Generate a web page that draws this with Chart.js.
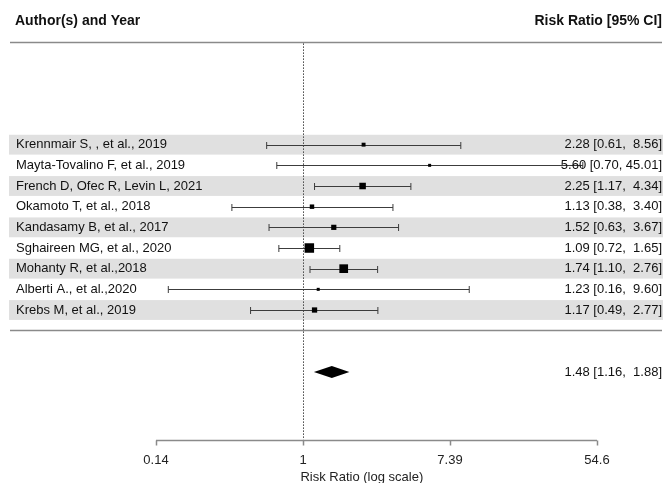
<!DOCTYPE html>
<html>
<head>
<meta charset="utf-8">
<script src="https://cdn.jsdelivr.net/npm/chart.js@4"></script>
<style>
  html, body { margin: 0; padding: 0; background: #fff; }
  #wrap { width: 666px; height: 483px; position: relative; }
</style>
</head>
<body>
<div id="wrap"><canvas id="forest"></canvas></div>
<script>
// 연구 목록
const studies = [
    "Krennmair S, , et al., 2019",
    "Mayta-Tovalino F, et al., 2019",
    "French D, Ofec R, Levin L, 2021",
    "Okamoto T, et al., 2018",
    "Kandasamy B, et al., 2017",
    "Sghaireen MG, et al., 2020",
    "Mohanty R, et al.,2018",
    "Alberti A., et al.,2020",
    "Krebs M, et al., 2019"
];
const riskRatio = [2.28, 5.60, 2.25, 1.13, 1.52, 1.09, 1.74, 1.23, 1.17];
const ciLower = [0.61, 0.70, 1.17, 0.38, 0.63, 0.72, 1.10, 0.16, 0.49];
const ciUpper = [8.56, 45.01, 4.34, 3.40, 3.67, 1.65, 2.76, 9.60, 2.77];
const ciText = [
    "2.28 [0.61,  8.56]",
    "5.60 [0.70, 45.01]",
    "2.25 [1.17,  4.34]",
    "1.13 [0.38,  3.40]",
    "1.52 [0.63,  3.67]",
    "1.09 [0.72,  1.65]",
    "1.74 [1.10,  2.76]",
    "1.23 [0.16,  9.60]",
    "1.17 [0.49,  2.77]"
];
// 통합 결과 (RR, 하한, 상한)
const pooled = [1.48, 1.16, 1.88];
const pooledText = "1.48 [1.16,  1.88]";
// 축 눈금 (로그 값) 및 라벨
const tickLogs = [-2, 0, 2, 4];
const tickLabels = ["0.14", "1", "7.39", "54.6"];

const FONT = '"Liberation Sans", Arial, sans-serif';
const POOLED_ROW = 11;
const AXIS_ROW = 14.27;

// 정밀도(1/SE)에 비례하는 마커 크기
const prec = riskRatio.map((_, i) => 3.92 / (Math.log(ciUpper[i]) - Math.log(ciLower[i])));
const pMin = Math.min(...prec), pMax = Math.max(...prec);
const markerRadius = prec.map(p => (3 + (p - pMin) / (pMax - pMin) * 6.5) / Math.SQRT2);

const forestPlugin = {
    id: 'forest',
    beforeDatasetsDraw(chart) {
        const { ctx, scales: { x, y } } = chart;
        const W = chart.width;
        ctx.save();
        // 회색 줄무늬
        ctx.fillStyle = '#e0e0e0';
        studies.forEach((s, i) => {
            if (i % 2 === 0) {
                const top = y.getPixelForValue(i - 0.48);
                const bot = y.getPixelForValue(i + 0.48);
                ctx.fillRect(9, top, W - 12, bot - top);
            }
        });
        // 헤더
        ctx.fillStyle = '#111';
        ctx.font = 'bold 14px ' + FONT;
        ctx.textBaseline = 'middle';
        ctx.textAlign = 'left';
        ctx.fillText('Author(s) and Year', 15, y.getPixelForValue(-6));
        ctx.textAlign = 'right';
        ctx.fillText('Risk Ratio [95% CI]', W - 4, y.getPixelForValue(-6));
        // 가로선
        ctx.strokeStyle = '#8a8a8a';
        ctx.lineWidth = 1.5;
        [-4.95, 8.97].forEach(r => {
            const py = Math.round(y.getPixelForValue(r)) + 0.5;
            ctx.beginPath();
            ctx.moveTo(10, py);
            ctx.lineTo(W - 4, py);
            ctx.stroke();
        });
        // 기준선 (RR = 1)
        const x1 = Math.round(x.getPixelForValue(1)) + 0.5;
        ctx.strokeStyle = '#444';
        ctx.lineWidth = 1;
        ctx.setLineDash([1.5, 1.5]);
        ctx.beginPath();
        ctx.moveTo(x1, y.getPixelForValue(-4.9));
        ctx.lineTo(x1, y.getPixelForValue(AXIS_ROW));
        ctx.stroke();
        ctx.setLineDash([]);
        // 신뢰구간
        ctx.strokeStyle = '#3c3c3c';
        ctx.lineWidth = 1;
        studies.forEach((s, i) => {
            const py = Math.round(y.getPixelForValue(i)) + 0.5;
            const xl = x.getPixelForValue(ciLower[i]);
            const xr = x.getPixelForValue(ciUpper[i]);
            ctx.beginPath();
            ctx.moveTo(xl, py); ctx.lineTo(xr, py);
            ctx.moveTo(xl, py - 3.5); ctx.lineTo(xl, py + 3.5);
            ctx.moveTo(xr, py - 3.5); ctx.lineTo(xr, py + 3.5);
            ctx.stroke();
        });
        // 연구명 및 수치
        ctx.fillStyle = '#111';
        ctx.font = '13px ' + FONT;
        studies.forEach((s, i) => {
            const py = y.getPixelForValue(i);
            ctx.textAlign = 'left';
            ctx.fillText(s, 16, py);
            ctx.textAlign = 'right';
            ctx.fillText(ciText[i], W - 4, py);
        });
        // 통합 다이아몬드
        const py = y.getPixelForValue(POOLED_ROW);
        ctx.fillStyle = '#000';
        ctx.beginPath();
        ctx.moveTo(x.getPixelForValue(pooled[1]), py);
        ctx.lineTo(x.getPixelForValue(pooled[0]), py - 6);
        ctx.lineTo(x.getPixelForValue(pooled[2]), py);
        ctx.lineTo(x.getPixelForValue(pooled[0]), py + 6);
        ctx.closePath();
        ctx.fill();
        ctx.fillStyle = '#111';
        ctx.textAlign = 'right';
        ctx.fillText(pooledText, W - 4, py);
        // x축
        const ay = Math.round(y.getPixelForValue(AXIS_ROW)) + 0.5;
        const ax0 = x.getPixelForValue(Math.exp(tickLogs[0]));
        const ax1 = x.getPixelForValue(Math.exp(tickLogs[tickLogs.length - 1]));
        ctx.strokeStyle = '#8a8a8a';
        ctx.lineWidth = 1.5;
        ctx.beginPath();
        ctx.moveTo(ax0, ay); ctx.lineTo(ax1, ay);
        tickLogs.forEach(t => {
            const tx = Math.round(x.getPixelForValue(Math.exp(t))) + 0.5;
            ctx.moveTo(tx, ay); ctx.lineTo(tx, ay + 5);
        });
        ctx.stroke();
        ctx.fillStyle = '#222';
        ctx.textAlign = 'center';
        tickLogs.forEach((t, i) => {
            ctx.fillText(tickLabels[i], x.getPixelForValue(Math.exp(t)), y.getPixelForValue(15.3));
        });
        ctx.fillText('Risk Ratio (log scale)', x.getPixelForValue(Math.exp(0.8)), y.getPixelForValue(16.1));
        ctx.restore();
    }
};

const chart = new Chart(document.getElementById('forest').getContext('2d'), {
    type: 'scatter',
    data: {
        datasets: [{
            data: riskRatio.map((v, i) => ({ x: v, y: i })),
            pointStyle: 'rect',
            pointRadius: markerRadius,
            pointHoverRadius: markerRadius,
            pointBorderWidth: 0,
            backgroundColor: '#000',
            borderColor: '#000'
        }]
    },
    options: {
        responsive: true,
        maintainAspectRatio: false, // 캔버스 크기 고정
        animation: false,
        layout: { padding: 0, autoPadding: false },
        plugins: {
            legend: { display: false },
            tooltip: { enabled: false }
        },
        scales: {
            x: {
                type: 'logarithmic',
                display: false,
                bounds: 'data',
                min: Math.exp(-303 / 73.5),
                max: Math.exp((666 - 303) / 73.5)
            },
            y: {
                type: 'linear',
                display: false,
                reverse: true,
                min: -7,
                max: 16.37
            }
        }
    },
    plugins: [forestPlugin]
});
</script>
</body>
</html>
